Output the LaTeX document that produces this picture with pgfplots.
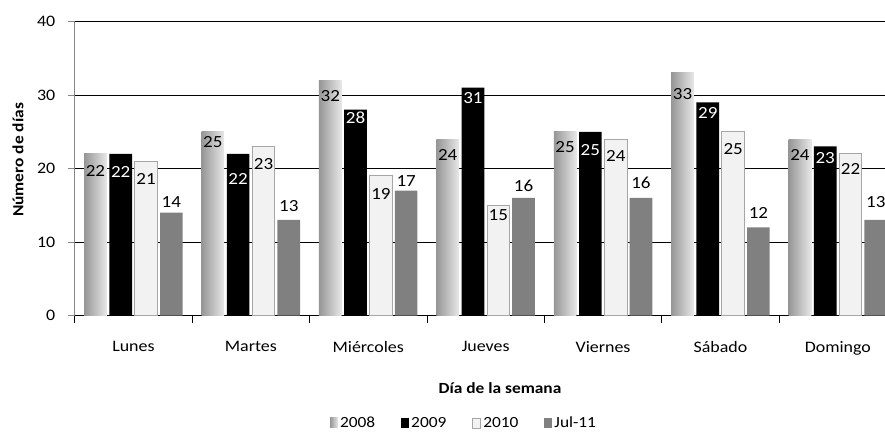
\documentclass[border=0pt]{standalone}
\usepackage{pgfplots}
\pgfplotsset{compat=1.18}
\usepackage{pgfplotstable}
\usepackage{fontspec}
\setmainfont{Carlito}[FakeStretch=1.12]
\definecolor{ca}{RGB}{150,150,150}
\definecolor{cb}{RGB}{232,232,232}
\definecolor{c10}{RGB}{242,242,242}
\definecolor{c10b}{RGB}{166,166,166}
\definecolor{c11}{RGB}{128,128,128}
\definecolor{axg}{RGB}{134,134,134}

% columns: category index, value, label offset (px)
\pgfplotstableread{
x y o
0 22 11
1 25 4.7
2 32 10
3 24 9.7
4 25 10
5 33 15.7
6 24 9.7
}\tA
\pgfplotstableread{
x y o
0 22 12
1 22 19
2 28 2.3
3 31 4.3
4 25 13
5 29 4.7
6 23 5.7
}\tB
\pgfplotstableread{
x y o
0 21 11.6
1 23 11.7
2 19 11.7
3 15 4
4 24 11
5 25 11
6 22 9
}\tC
\pgfplotstableread{
x y o
0 14 5
1 13 8
2 17 4
3 16 6
4 16 9
5 12 9
6 13 12
}\tD

\pgfplotsset{
  s08/.style={bar shift=-0.323, draw=none, left color=ca, right color=cb,
    nodes near coords, visualization depends on={\thisrow{o} \as \off},
    every node near coord/.append style={anchor=north, yshift=-\off pt, text=black}},
}

\begin{document}
\begin{tikzpicture}
\begin{axis}[
  at={(74.7pt,115.5pt)}, anchor=south west,
  width=821.9pt, height=294pt, scale only axis,
  xmin=-0.5, xmax=6.5, ymin=0, ymax=40,
  ybar, bar width=0.193,
  ytick={0,10,20,30,40},
  xtick={0,...,6},
  xticklabels={Lunes,Martes,Miércoles,Jueves,Viernes,Sábado,Domingo},
  minor xtick={-0.5,0.5,...,6.5},
  major x tick style={draw=none},
  minor x tick style={black, line width=0.8pt},
  ytick style={axg, line width=0.8pt},
  tick align=outside,
  major tick length=7pt, minor tick length=7pt,
  axis x line*=bottom, axis y line*=left,
  x axis line style={-, black, line width=1.4pt},
  y axis line style={-, axg, line width=1pt},
  ymajorgrids, grid style={black, line width=0.8pt},
  tick label style={font=\fontsize{16}{18}\selectfont},
  /pgf/number format/assume math mode=true,
  yticklabel style={xshift=-9pt},
  xticklabel style={yshift=-15pt},
  xlabel={\bfseries Día de la semana},
  ylabel={\bfseries Número de días},
  label style={font=\fontsize{15.5}{17}\selectfont},
  xlabel style={at={(rel axis cs:0.5175,-0.2466)}, anchor=center},
  ylabel style={at={(rel axis cs:-0.069,0.529)}, anchor=center},
  every node near coord/.append style={font=\fontsize{17}{17}\selectfont, inner sep=0pt},
  legend columns=-1,
  legend style={at={(rel axis cs:0.4737,-0.3656)}, anchor=center, draw=none,
    font=\fontsize{15.5}{17}\selectfont, inner sep=0pt,
    /tikz/every even column/.style={column sep=24pt}},
  legend image code/.code={\path[#1] (0pt,-5pt) rectangle (8pt,5pt);},
]
% 2008: one bar per plot so that each bar gets its own gradient
\addplot[s08, restrict x to domain=0:0] table[x=x,y=y]{\tA};
\pgfplotsinvokeforeach{1,2,3,4,5,6}{
  \addplot[s08, forget plot, restrict x to domain=#1:#1] table[x=x,y=y]{\tA};
}
\addplot[bar shift=-0.108, draw=none, fill=black,
  nodes near coords, visualization depends on={\thisrow{o} \as \off},
  every node near coord/.append style={anchor=north, yshift=-\off pt, text=white}]
  table[x=x,y=y]{\tB};
\addplot[bar shift=0.108, draw=c10b, line width=0.9pt, fill=c10,
  nodes near coords, visualization depends on={\thisrow{o} \as \off},
  every node near coord/.append style={anchor=north, yshift=-\off pt, text=black}]
  table[x=x,y=y]{\tC};
\addplot[bar shift=0.323, draw=none, fill=c11,
  nodes near coords, visualization depends on={\thisrow{o} \as \off},
  every node near coord/.append style={anchor=south, yshift=\off pt, text=black}]
  table[x=x,y=y]{\tD};
\legend{2008,2009,2010,Jul-11}
\end{axis}
\pgfresetboundingbox
\path[use as bounding box] (0,0) rectangle (885pt,431pt);
\end{tikzpicture}
\end{document}
